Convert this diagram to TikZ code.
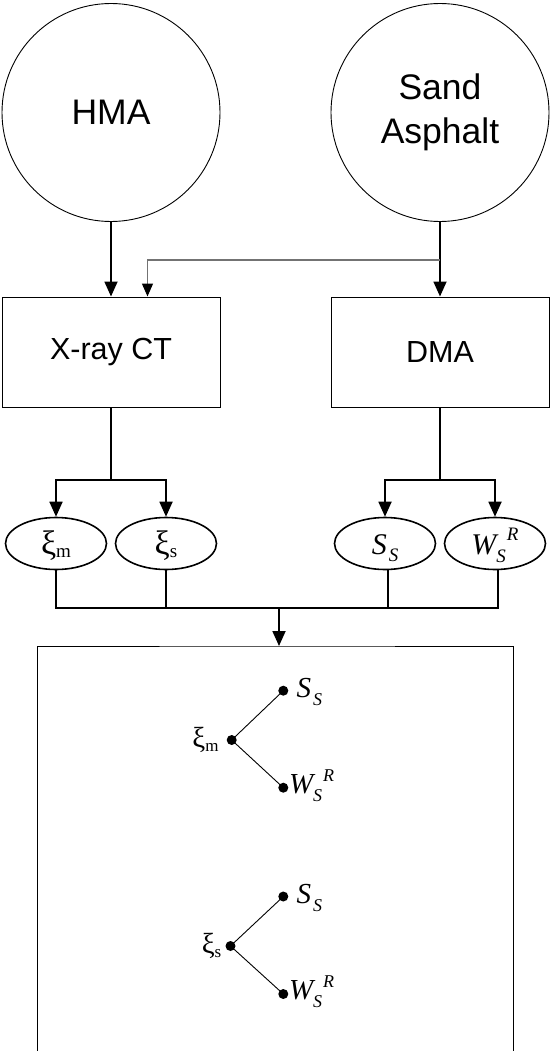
\documentclass[tikz,border=0pt]{standalone}
\usepackage{fontspec}
\setmainfont{Liberation Serif}
\newfontfamily\arialf{Liberation Sans}
\usetikzlibrary{arrows.meta,calc,shapes.geometric}
\newcommand\fsz[1]{\fontsize{#1pt}{#1pt}\selectfont}
\newcommand\xilab[4]{{\fsz{#1}ξ}{\fsz{#2}\raisebox{-#3pt}{#4}}}
\newcommand\slab[3]{{\fsz{#1}\itshape S}\kern2pt{\fsz{#2}\itshape\raisebox{-#3pt}{S}}}
\newcommand\wlab[4]{{\fsz{#1}\itshape W}{\fsz{#2}\itshape\raisebox{-#3pt}{S}\kern1pt\raisebox{#4pt}{R}}}
\begin{document}
\begin{tikzpicture}[x=1pt,y=-1pt,
  circ/.style={circle,draw,line width=0.9pt,minimum size=218pt,inner sep=0pt,
    font=\arialf\fontsize{35.5pt}{44pt}\selectfont,align=center},
  box/.style={rectangle,draw,line width=1pt,minimum width=218pt,minimum height=110pt,
    inner sep=0pt,font=\arialf\fontsize{30.5pt}{36pt}\selectfont},
  ell/.style={ellipse,draw,line width=1.6pt,minimum width=101pt,minimum height=52pt,
    inner sep=0pt,text height=26pt,text depth=4pt},
  conn/.style={line width=1.8pt},
  arr/.style={line width=1.8pt,-{Triangle[width=13pt,length=15pt]}},
  garr/.style={line width=1.3pt,draw=black!55,-{Triangle[width=11pt,length=13pt,color=black]}},
  outline/.style={line width=1pt},
  dot/.style={circle,fill=black,inner sep=0pt,minimum size=10pt},
  tline/.style={line width=0.9pt},
  lab/.style={inner sep=0pt}]
\useasboundingbox (0,0) rectangle (549,1051);
\fill[white] (0,0) rectangle (549,1051);
% sources
\node[circ] (hma) at (111,112.5) {HMA};
\node[circ] (sand) at (440,112.5) {Sand\\Asphalt};
% tests
\node[box] (xct) at (111,352) {X-ray CT};
\node[box] (dma) at (440,352) {DMA};
\draw[arr] (hma.south) -- (xct.north);
\draw[arr] (sand.south) -- (dma.north);
\coordinate (j) at (440,260);
\draw[garr] (j) -| ($(xct.north)+(36.5,0)$);
% parameters
\node[ell] (e1) at (56,543.5) {\xilab{34}{19}{3}{m}};
\node[ell] (e2) at (166,543.5) {\xilab{34}{19}{3}{s}};
\node[ell] (e3) at (385,543.5) {\slab{30}{19}{7}};
\node[ell] (e4) at (495,543.5) {\wlab{30}{19}{8}{14}};
\coordinate (xb) at (111,480);
\coordinate (db) at (440,480);
\draw[conn] (xct.south) -- (xb);
\draw[arr] (xb) -| (e1.north);
\draw[arr] (xb) -| (e2.north);
\draw[conn] (dma.south) -- (db);
\draw[arr] (db) -| (e3.north);
\draw[arr] (db) -| (e4.north);
% collector
\coordinate (bar) at (279,608);
\coordinate (res) at (279,646);
\coordinate (e3b) at ($(e3.south)+(3,0)$);
\coordinate (e4b) at ($(e4.south)+(3,0)$);
\draw[conn] (e1.south) |- (e4b |- bar) -- (e4b);
\draw[conn] (e2.south) -- (e2.south |- bar);
\draw[conn] (e3b) -- (e3b |- bar);
\draw[arr] (bar) -- (res);
\draw[outline] (37.5,1051) |- (res) -| (513,1051);
% trees
\node[dot] (m0) at (231.7,740) {};
\node[dot] (m1) at (283.3,690.7) {};
\node[dot] (m2) at (283.3,787.7) {};
\node[dot] (s0) at (230.5,946) {};
\node[dot] (s1) at (283.3,896.5) {};
\node[dot] (s2) at (283.3,994) {};
\draw[tline] (m0.center) -- (m1.center);
\draw[tline] (m0.center) -- (m2.center);
\draw[tline] (s0.center) -- (s1.center);
\draw[tline] (s0.center) -- (s2.center);
\node[lab,anchor=base east] (lm) at ($(m0)+(-13,7)$) {\xilab{29}{17}{4}{m}};
\node[lab,anchor=base east] (ls) at ($(s0)+(-9,7)$) {\xilab{29}{17}{4}{s}};
\node[lab,anchor=base west] (lm1) at ($(m1)+(13,6.5)$) {\slab{29}{18}{8}};
\node[lab,anchor=base west] (lm2) at ($(m2)+(5.5,5.5)$) {\wlab{29}{18}{8}{12}};
\node[lab,anchor=base west] (ls1) at ($(s1)+(13,6.5)$) {\slab{29}{18}{8}};
\node[lab,anchor=base west] (ls2) at ($(s2)+(5.5,5.5)$) {\wlab{29}{18}{8}{12}};
\end{tikzpicture}
\end{document}
